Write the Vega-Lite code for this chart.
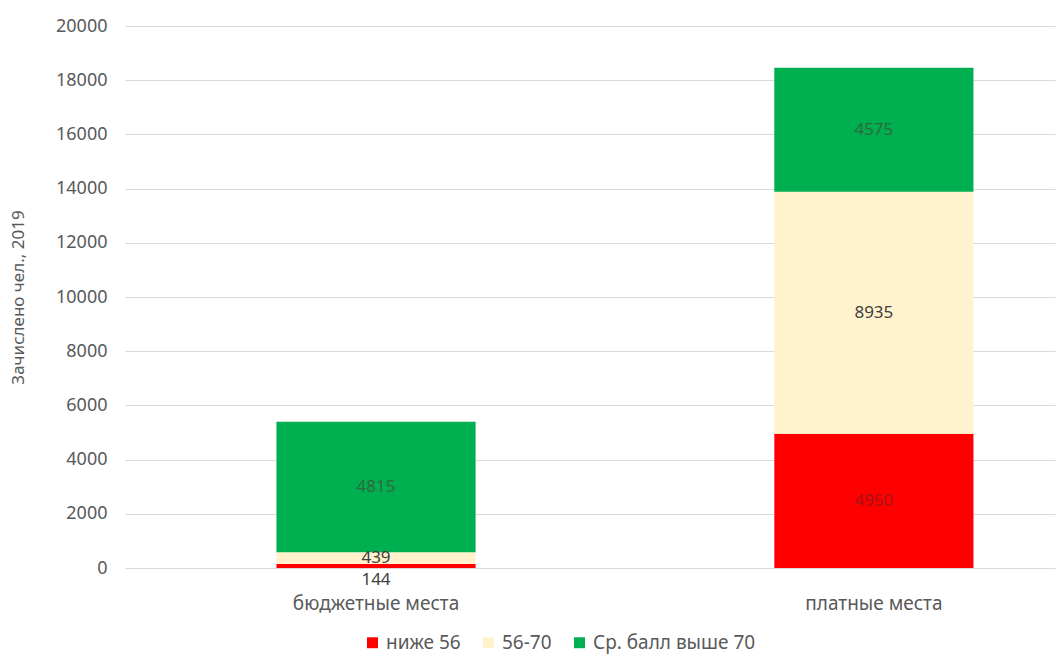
{
  "$schema": "https://vega.github.io/schema/vega-lite/v6.json",
  "width": 930,
  "height": 542,
  "autosize": {"type": "none"},
  "padding": {"left": 125, "top": 26, "right": 3, "bottom": 87},
  "background": "white",
  "config": {
    "view": {"stroke": null},
    "font": "Noto Sans",
    "axis": {"labelFont": "Noto Sans", "titleFont": "Noto Sans"},
    "legend": {"labelFont": "Noto Sans"}
  },
  "data": {
    "values": [
      {"cat": "бюджетные места", "grp": "ниже 56", "rank": 1, "v": 144},
      {"cat": "бюджетные места", "grp": "56-70", "rank": 2, "v": 439},
      {"cat": "бюджетные места", "grp": "Ср. балл выше 70", "rank": 3, "v": 4815},
      {"cat": "платные места", "grp": "ниже 56", "rank": 1, "v": 4950},
      {"cat": "платные места", "grp": "56-70", "rank": 2, "v": 8935},
      {"cat": "платные места", "grp": "Ср. балл выше 70", "rank": 3, "v": 4575}
    ]
  },
  "transform": [
    {"stack": "v", "groupby": ["cat"], "sort": [{"field": "rank", "order": "ascending"}], "as": ["v0", "v1"]},
    {"calculate": "(datum.v0 + datum.v1) / 2", "as": "mid"}
  ],
  "encoding": {
    "x": {
      "field": "cat", "type": "nominal", "title": null,
      "scale": {"paddingInner": 0.6, "paddingOuter": 0.234, "align": 0.65},
      "axis": {"labelAngle": 0, "ticks": false, "domain": false, "labelColor": "#595959", "labelFontSize": 19, "labelPadding": 26}
    }
  },
  "layer": [
    {
      "mark": {"type": "bar"},
      "encoding": {
        "y": {
          "field": "v0", "type": "quantitative",
          "scale": {"domain": [0, 20000], "nice": false},
          "title": "Зачислено чел., 2019",
          "axis": {"values": [0, 2000, 4000, 6000, 8000, 10000, 12000, 14000, 16000, 18000, 20000], "format": "d", "ticks": false, "domain": false, "gridColor": "#d9d9d9", "labelColor": "#595959", "labelFontSize": 18, "labelPadding": 18, "titleColor": "#595959", "titleFontSize": 17, "titleFontWeight": "normal", "titlePadding": 28}
        },
        "y2": {"field": "v1"},
        "color": {
          "field": "grp", "type": "nominal",
          "scale": {"domain": ["ниже 56", "56-70", "Ср. балл выше 70"], "range": ["#ff0000", "#fff2cc", "#00b050"]},
          "legend": {"title": null, "orient": "none", "direction": "horizontal", "legendX": 238, "legendY": 607, "symbolType": "square", "symbolSize": 120, "symbolStrokeWidth": 0, "labelFontSize": 19, "labelLimit": 400, "labelColor": "#595959", "columnPadding": 18, "labelOffset": 4}
        }
      }
    },
    {
      "transform": [{"filter": "datum.v >= 300"}],
      "mark": {"type": "text", "fontSize": 17, "baseline": "middle"},
      "encoding": {
        "y": {"field": "mid", "type": "quantitative"},
        "text": {"field": "v", "type": "quantitative", "format": "d"},
        "color": {
          "field": "grp", "type": "nominal",
          "scale": {"domain": ["ниже 56", "56-70", "Ср. балл выше 70"], "range": ["#a31515", "#404040", "#2f6a3f"]},
          "legend": null
        }
      }
    },
    {
      "transform": [{"filter": "datum.v < 300"}],
      "mark": {"type": "text", "fontSize": 17, "color": "#404040", "baseline": "middle", "dy": 14},
      "encoding": {
        "y": {"field": "mid", "type": "quantitative"},
        "text": {"field": "v", "type": "quantitative", "format": "d"}
      }
    }
  ],
  "resolve": {"scale": {"color": "independent"}}
}
